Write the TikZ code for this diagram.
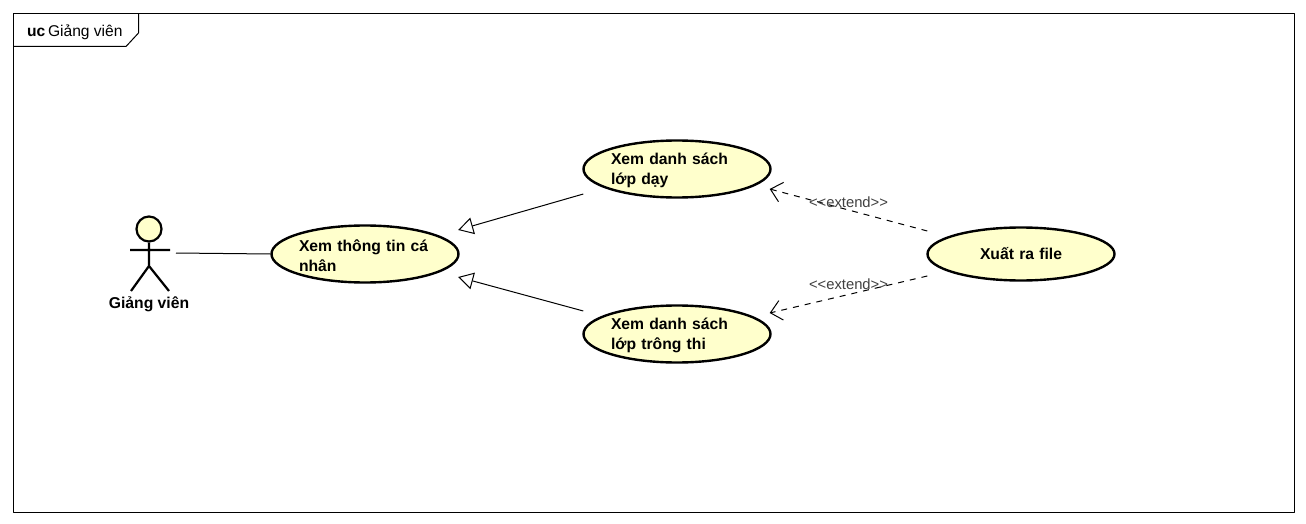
\documentclass[tikz,border=0pt]{standalone}
\usepackage{fontspec}
\setmainfont{Liberation Sans}
\usetikzlibrary{positioning, arrows.meta, shapes.geometric}
\definecolor{ucfill}{HTML}{FFFFCC}

\begin{document}
\begin{tikzpicture}[x=1pt, y=-1pt, on grid, line join=round,
usecase/.style={ellipse, draw, line width=2.4pt, fill=ucfill, inner sep=0pt, text width=132pt, text height=14.5pt, align=left, minimum width=187pt, minimum height=57pt, font=\bfseries\fontsize{15.7}{20}\selectfont},
gen/.style={-{Triangle[open, fill=white, length=15pt, width=17pt]}, line width=1pt},
ext/.style={-{Straight Barb[length=11pt, width=20pt, line width=1pt]}, dash pattern=on 6pt off 6pt, line width=1pt},
extlabel/.style={text=black!75, inner sep=0pt, font=\fontsize{14.8}{16}\selectfont},
limb/.style={line width=2.2pt}]
\useasboundingbox (0,0) rectangle (1306,524);
% frame and tab
\draw[line width=1pt] (13.5,13.5) rectangle (1294.5,512);
\draw[line width=1pt] (13.5,46.5) -- (126,46.5) -- (138.5,33) -- (138.5,13.5);
\node[anchor=west, inner sep=0pt, font=\fontsize{15.6}{18}\selectfont] (title) at (27,32.5) {\textbf{uc}\,Giảng viên};
% use cases
\node[usecase] (info) at (365,254) {Xem thông tin cá\\nhân};
\node[usecase] (teach) [above right = 85pt and 312pt of info] {Xem danh sách\\lớp dạy};
\node[usecase] (proctor) [below right = 80pt and 312pt of info] {Xem danh sách\\lớp trông thi};
\node[usecase, align=center, text height=11pt, minimum height=53pt] (export) [right = 656pt of info] {Xuất ra file};
% actor
\node[circle, draw, limb, fill=ucfill, minimum size=25pt, inner sep=0pt] (actor) at (149,229) {};
\coordinate (hip) at (149,266);
\coordinate (hand) at (176,253);
\draw[limb] (actor.south) -- (hip) (130,250) -- (170,250) (131,291) -- (hip) -- (169,291);
\node[inner sep=0pt, font=\bfseries\fontsize{15.7}{18}\selectfont] (actorname) at (149,304) {Giảng viên};
% connectors
\draw[line width=1pt] (hand) -- (info.west);
\draw[gen] ([xshift=1pt, yshift=-25pt]teach.west) -- ([xshift=-1.5pt, yshift=24pt]info.east);
\draw[gen] ([xshift=1pt, yshift=23pt]proctor.west) -- ([xshift=-1.5pt, yshift=-23pt]info.east);
\draw[ext] ([xshift=1pt, yshift=23pt]export.west) -- node[extlabel, yshift=8pt] (extA) {{<}{<}extend{>}{>}} ([xshift=-2pt, yshift=-20pt]teach.east);
\draw[ext] ([xshift=1pt, yshift=-22pt]export.west) -- node[extlabel, yshift=10pt] (extB) {{<}{<}extend{>}{>}} ([xshift=-2pt, yshift=21pt]proctor.east);
\end{tikzpicture}
\end{document}
